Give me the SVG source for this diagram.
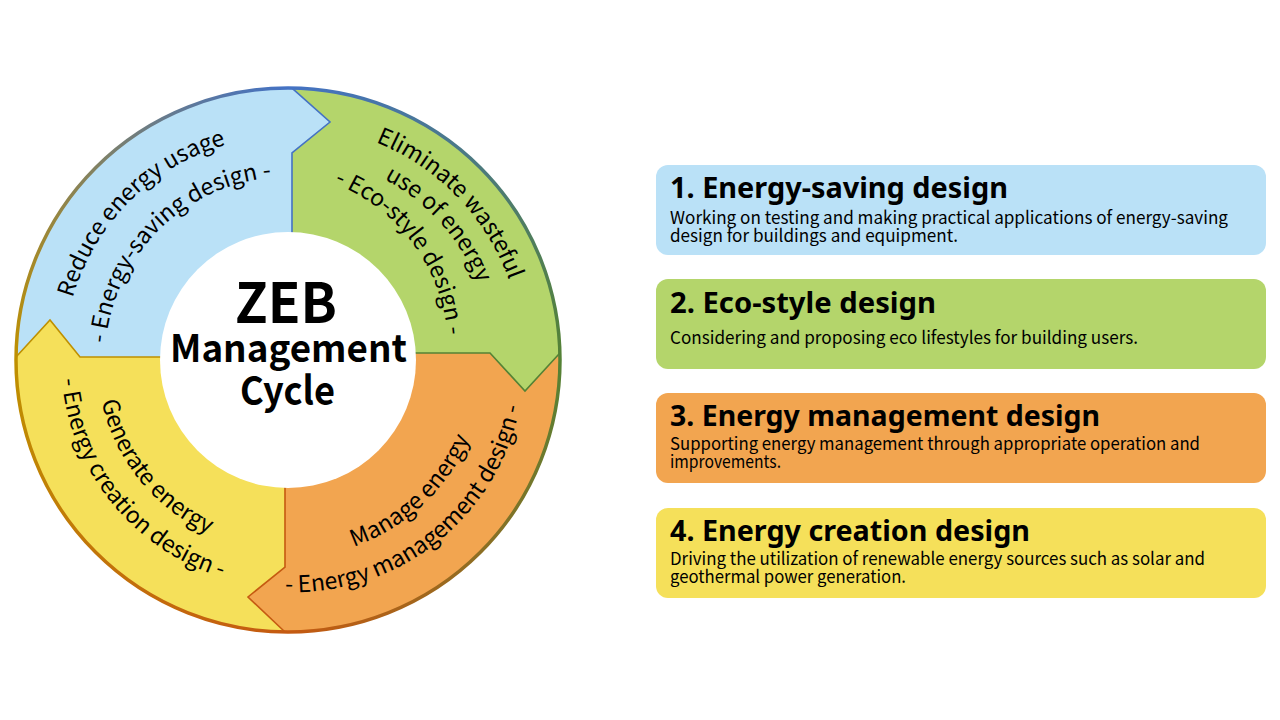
<svg xmlns="http://www.w3.org/2000/svg" width="1280" height="720" viewBox="0 0 1280 720">
<defs>
<linearGradient id="gTL" gradientUnits="userSpaceOnUse" x1="16" y1="360" x2="288" y2="88"><stop offset="0" stop-color="#BF9000"/><stop offset="1" stop-color="#4472C4"/></linearGradient>
<linearGradient id="gTR" gradientUnits="userSpaceOnUse" x1="288" y1="88" x2="560" y2="360"><stop offset="0" stop-color="#4472C4"/><stop offset="1" stop-color="#548235"/></linearGradient>
<linearGradient id="gBR" gradientUnits="userSpaceOnUse" x1="560" y1="360" x2="288" y2="632"><stop offset="0" stop-color="#548235"/><stop offset="1" stop-color="#C55A11"/></linearGradient>
<linearGradient id="gBL" gradientUnits="userSpaceOnUse" x1="288" y1="632" x2="16" y2="360"><stop offset="0" stop-color="#C55A11"/><stop offset="1" stop-color="#BF9000"/></linearGradient>
<path id="pB1" d="M 71.6 418.0 A 224 224 0 0 1 346.0 143.6"/>
<path id="pB2" d="M 111.2 407.4 A 183 183 0 0 1 335.4 183.2"/>
<path id="pG1" d="M 231.1 132.0 A 235 235 0 0 1 513.9 424.8"/>
<path id="pG2" d="M 245.4 159.5 A 205 205 0 0 1 483.0 423.3"/>
<path id="pG3" d="M 248.1 172.2 A 179 179 0 0 1 433.4 420.8"/>
<path id="pY1" d="M 109.7 291.5 A 191 191 0 0 0 317.9 548.6"/>
<path id="pY2" d="M 76.1 278.6 A 227 227 0 0 0 323.5 584.2"/>
<path id="pO1" d="M 230.1 549.3 A 198 198 0 0 0 480.9 315.5"/>
<path id="pO2" d="M 213.1 577.3 A 230 230 0 0 0 522.4 333.2"/>
</defs>
<style>
.ring{font-family:"Noto Sans CJK JP","Noto Sans",sans-serif;font-size:23px;fill:#000}
.ctr{font-family:"Noto Sans CJK JP","Noto Sans",sans-serif;font-weight:700;fill:#000;text-anchor:middle}
.ttl{font-family:"Noto Sans","Noto Sans CJK JP",sans-serif;font-weight:700;font-size:28px;fill:#000}
.dsc{font-family:"Noto Sans CJK JP","Noto Sans",sans-serif;font-size:17.5px;fill:#000}
.edge{fill:none;stroke-width:1.6;stroke-linejoin:miter}
.rim{fill:none;stroke-width:3.5}
.blue{fill:#BAE1F7}.green{fill:#B4D56B}.orange{fill:#F2A550}.yellow{fill:#F5E05A}
</style>
<rect width="1280" height="720" fill="#FFFFFF"/>
<g id="cycle">
  <g id="seg-blue">
    <path class="blue" d="M 16.02 357 L 50 320 L 80 357 L 292 357 L 292 153 L 330 122 L 292 88.03 A 272 272 0 0 0 16.02 357 Z"/>
  </g>
  <g id="seg-green">
    <path class="green" d="M 292 88.03 L 330 122 L 292 153 L 292 353 L 490 353 L 525 391 L 559.9 353 A 272 272 0 0 0 292 88.03 Z"/>
  </g>
  <g id="seg-orange">
    <path class="orange" d="M 559.9 353 L 525 391 L 490 353 L 285 353 L 285 567 L 248 597 L 285 631.98 A 272 272 0 0 0 559.9 353 Z"/>
  </g>
  <g id="seg-yellow">
    <path class="yellow" d="M 285 631.98 L 248 597 L 285 567 L 285 357 L 80 357 L 50 320 L 16.02 357 A 272 272 0 0 0 285 631.98 Z"/>
  </g>
  <g id="edges">
    <path class="edge" stroke="#4472C4" d="M 292 240 L 292 153 L 330 122 L 292 88.03"/>
    <path class="edge" stroke="#548235" d="M 410 353 L 490 353 L 525 391 L 559.9 353"/>
    <path class="edge" stroke="#C55A11" d="M 285 480 L 285 567 L 248 597 L 285 631.98"/>
    <path class="edge" stroke="#BF9000" d="M 168 357 L 80 357 L 50 320 L 16.02 357"/>
  </g>
  <g id="rim">
    <path class="rim" stroke="url(#gTL)" d="M 16 360 A 272 272 0 0 1 288 88"/>
    <path class="rim" stroke="url(#gTR)" d="M 288 88 A 272 272 0 0 1 560 360"/>
    <path class="rim" stroke="url(#gBR)" d="M 560 360 A 272 272 0 0 1 288 632"/>
    <path class="rim" stroke="url(#gBL)" d="M 288 632 A 272 272 0 0 1 16 360"/>
  </g>
  <g id="center">
    <circle cx="288" cy="360" r="128" fill="#FFFFFF"/>
    <text class="ctr" x="286" y="323" font-size="56" textLength="102" lengthAdjust="spacingAndGlyphs">ZEB</text>
    <text class="ctr" x="288.5" y="362" font-size="38" textLength="237" lengthAdjust="spacingAndGlyphs">Management</text>
    <text class="ctr" x="287.5" y="405" font-size="39" textLength="95" lengthAdjust="spacingAndGlyphs">Cycle</text>
  </g>
  <g id="labels">
    <text class="ring" text-anchor="middle"><textPath href="#pB1" startOffset="50%">Reduce energy usage</textPath></text>
    <text class="ring" text-anchor="middle"><textPath href="#pB2" startOffset="50%">- Energy-saving design -</textPath></text>
    <text class="ring" text-anchor="middle"><textPath href="#pG1" startOffset="50%">Eliminate wasteful</textPath></text>
    <text class="ring" text-anchor="middle"><textPath href="#pG2" startOffset="50%">use of energy</textPath></text>
    <text class="ring" text-anchor="middle"><textPath href="#pG3" startOffset="50%">- Eco-style design -</textPath></text>
    <text class="ring" text-anchor="middle"><textPath href="#pY1" startOffset="50%">Generate energy</textPath></text>
    <text class="ring" text-anchor="middle"><textPath href="#pY2" startOffset="50%">- Energy creation design -</textPath></text>
    <text class="ring" text-anchor="middle"><textPath href="#pO1" startOffset="50%">Manage energy</textPath></text>
    <text class="ring" text-anchor="middle"><textPath href="#pO2" startOffset="50%">- Energy management design -</textPath></text>
  </g>
</g>
<g id="legend-1">
  <rect class="blue" x="656" y="165" width="610" height="90" rx="12"/>
  <text class="ttl" x="670" y="198" textLength="338" lengthAdjust="spacingAndGlyphs">1. Energy-saving design</text>
  <text class="dsc" x="670" y="224" textLength="558" lengthAdjust="spacingAndGlyphs">Working on testing and making practical applications of energy-saving</text>
  <text class="dsc" x="670" y="242" textLength="288" lengthAdjust="spacingAndGlyphs">design for buildings and equipment.</text>
</g>
<g id="legend-2">
  <rect class="green" x="656" y="279" width="610" height="90" rx="12"/>
  <text class="ttl" x="670" y="313" textLength="266" lengthAdjust="spacingAndGlyphs">2. Eco-style design</text>
  <text class="dsc" x="670" y="344" textLength="468" lengthAdjust="spacingAndGlyphs">Considering and proposing eco lifestyles for building users.</text>
</g>
<g id="legend-3">
  <rect class="orange" x="656" y="393" width="610" height="90" rx="12"/>
  <text class="ttl" x="670" y="426" textLength="430" lengthAdjust="spacingAndGlyphs">3. Energy management design</text>
  <text class="dsc" x="670" y="450" textLength="530" lengthAdjust="spacingAndGlyphs">Supporting energy management through appropriate operation and</text>
  <text class="dsc" x="670" y="468" textLength="111" lengthAdjust="spacingAndGlyphs">improvements.</text>
</g>
<g id="legend-4">
  <rect class="yellow" x="656" y="508" width="610" height="90" rx="12"/>
  <text class="ttl" x="670" y="541" textLength="360" lengthAdjust="spacingAndGlyphs">4. Energy creation design</text>
  <text class="dsc" x="670" y="565" textLength="535" lengthAdjust="spacingAndGlyphs">Driving the utilization of renewable energy sources such as solar and</text>
  <text class="dsc" x="670" y="583" textLength="236" lengthAdjust="spacingAndGlyphs">geothermal power generation.</text>
</g>
</svg>
